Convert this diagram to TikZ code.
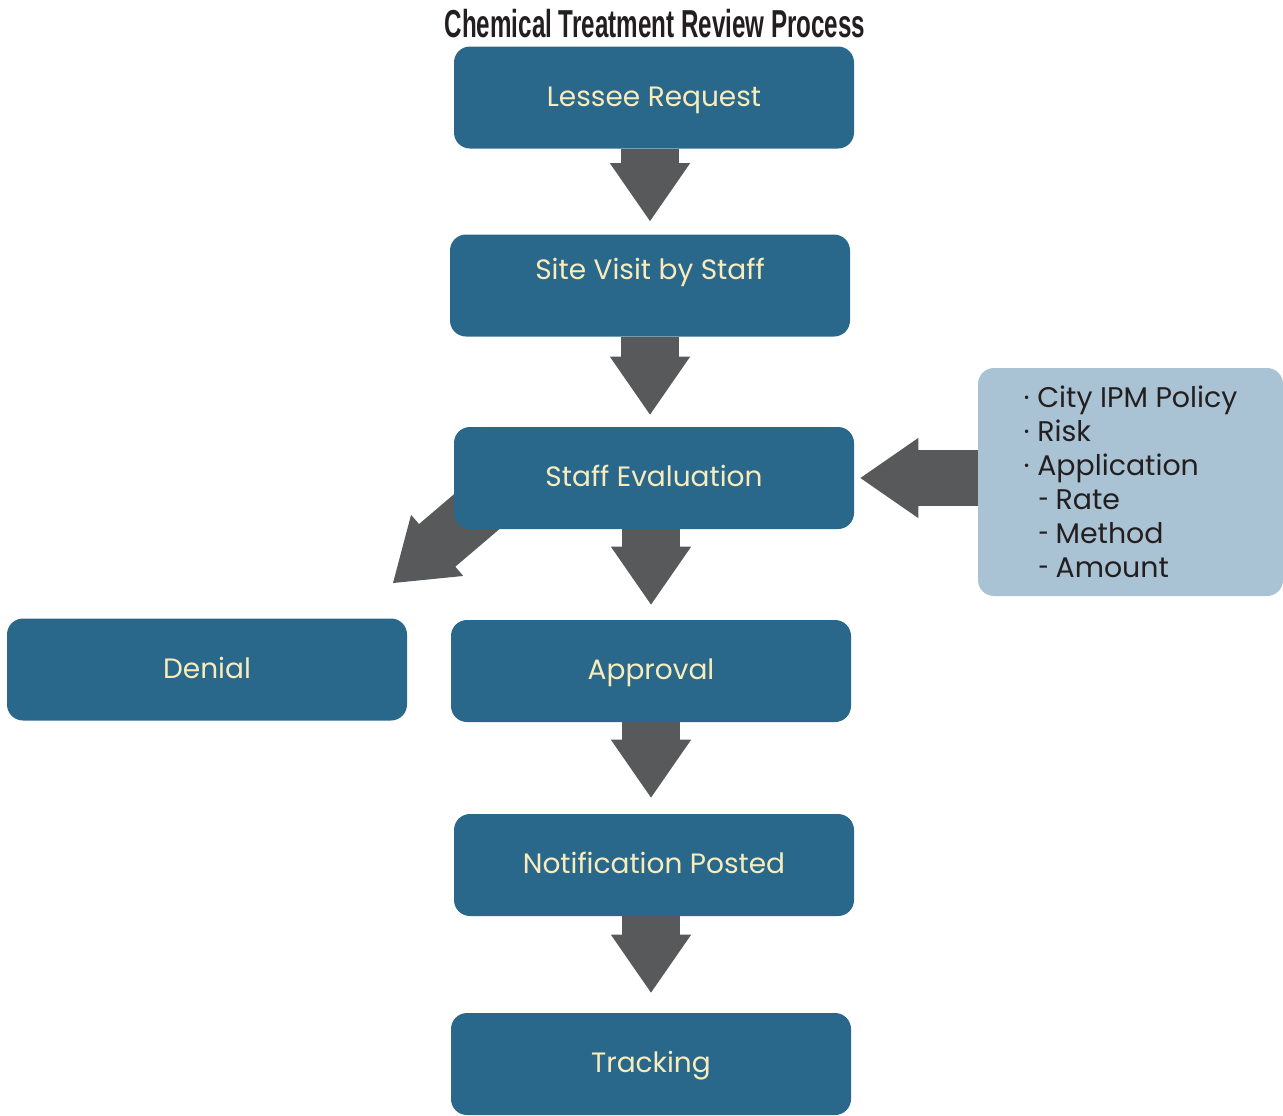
\documentclass[tikz,border=0pt]{standalone}
\usepackage{fontspec}
\usepackage{graphicx}
\setmainfont{Poppins}
\newfontfamily\titlefont[FakeStretch=0.62]{Liberation Sans Bold}
\usetikzlibrary{arrows.meta, backgrounds, calc, positioning}

\definecolor{boxblue}{RGB}{42,104,139}
\definecolor{textcream}{RGB}{248,236,188}
\definecolor{arrowgray}{RGB}{88,89,91}
\definecolor{sideblue}{RGB}{169,194,212}
\definecolor{titleink}{RGB}{35,31,32}

\newcommand{\factorsub}[1]{\hspace*{7.5pt}\makebox[8.5pt][l]{\scalebox{0.65}[1]{-}}#1}

\tikzset{
    stepbox/.style={fill=boxblue, rounded corners=8pt, minimum width=200pt,
        minimum height=51pt, text height=11pt, text depth=2.5pt,
        text=textcream, font=\fontsize{14}{17}\selectfont},
    factorbox/.style={fill=sideblue, rounded corners=8pt, minimum width=152.5pt,
        minimum height=114pt, align=left,
        text=titleink, font=\fontsize{14.2}{17}\selectfont},
    flowarrow/.style={draw=arrowgray, line width=29pt,
        -{Triangle[length=29pt, width=40pt, line width=0.8pt]}},
}

\begin{document}
\begin{tikzpicture}[x=0.5pt, y=-0.5pt]
    \useasboundingbox (0,0) rectangle (1283,1115);

    % Title
    \node[text=titleink, font=\titlefont\fontsize{19.5}{22}\selectfont] (title) at (655,24)
        {Chemical Treatment Review Process};

    % Main steps
    \node[stepbox] (lessee) at (654,97.5) {Lessee Request};
    \node[stepbox] (site) at (650,285.5) {\raisebox{7.5pt}{Site Visit by Staff}};
    \node[stepbox] (eval) at (654,478) {Staff Evaluation};
    \node[stepbox] (denial) at (207,669.5) {Denial};
    \node[stepbox] (approval) at (651,671) {Approval};
    \node[stepbox] (notice) at (654,865) {Notification Posted};
    \node[stepbox] (tracking) at (651,1064) {Tracking};

    % Evaluation criteria
    \node[factorbox] (factors) at (1130.5,482)
        {· City IPM Policy\\ · Risk\\ · Application\\
         \factorsub{Rate}\\ \factorsub{Method}\\ \factorsub{Amount}};

    % Denial arrow tip
    \coordinate (denytip) at (393,583);

    % Block arrows behind the boxes
    \begin{scope}[on background layer]
        \draw[flowarrow, shorten >=6.5pt] (site.north |- lessee.south) -- (site.north);
        \draw[flowarrow, shorten >=6pt] (site.south) -- (site.south |- eval.north);
        \draw[flowarrow, shorten >=7.5pt] (approval.north |- eval.south) -- (approval.north);
        \draw[flowarrow, shorten >=8pt] (approval.south) -- (approval.south |- notice.north);
        \draw[flowarrow, shorten >=10pt] (tracking.north |- notice.south) -- (tracking.north);
        \draw[flowarrow, line width=28pt, shorten >=3pt] (factors.west |- eval.east) -- (eval.east);
        \draw[flowarrow, line width=28pt] ($(denytip)+(122,-104)$) -- (denytip);
    \end{scope}
\end{tikzpicture}
\end{document}
